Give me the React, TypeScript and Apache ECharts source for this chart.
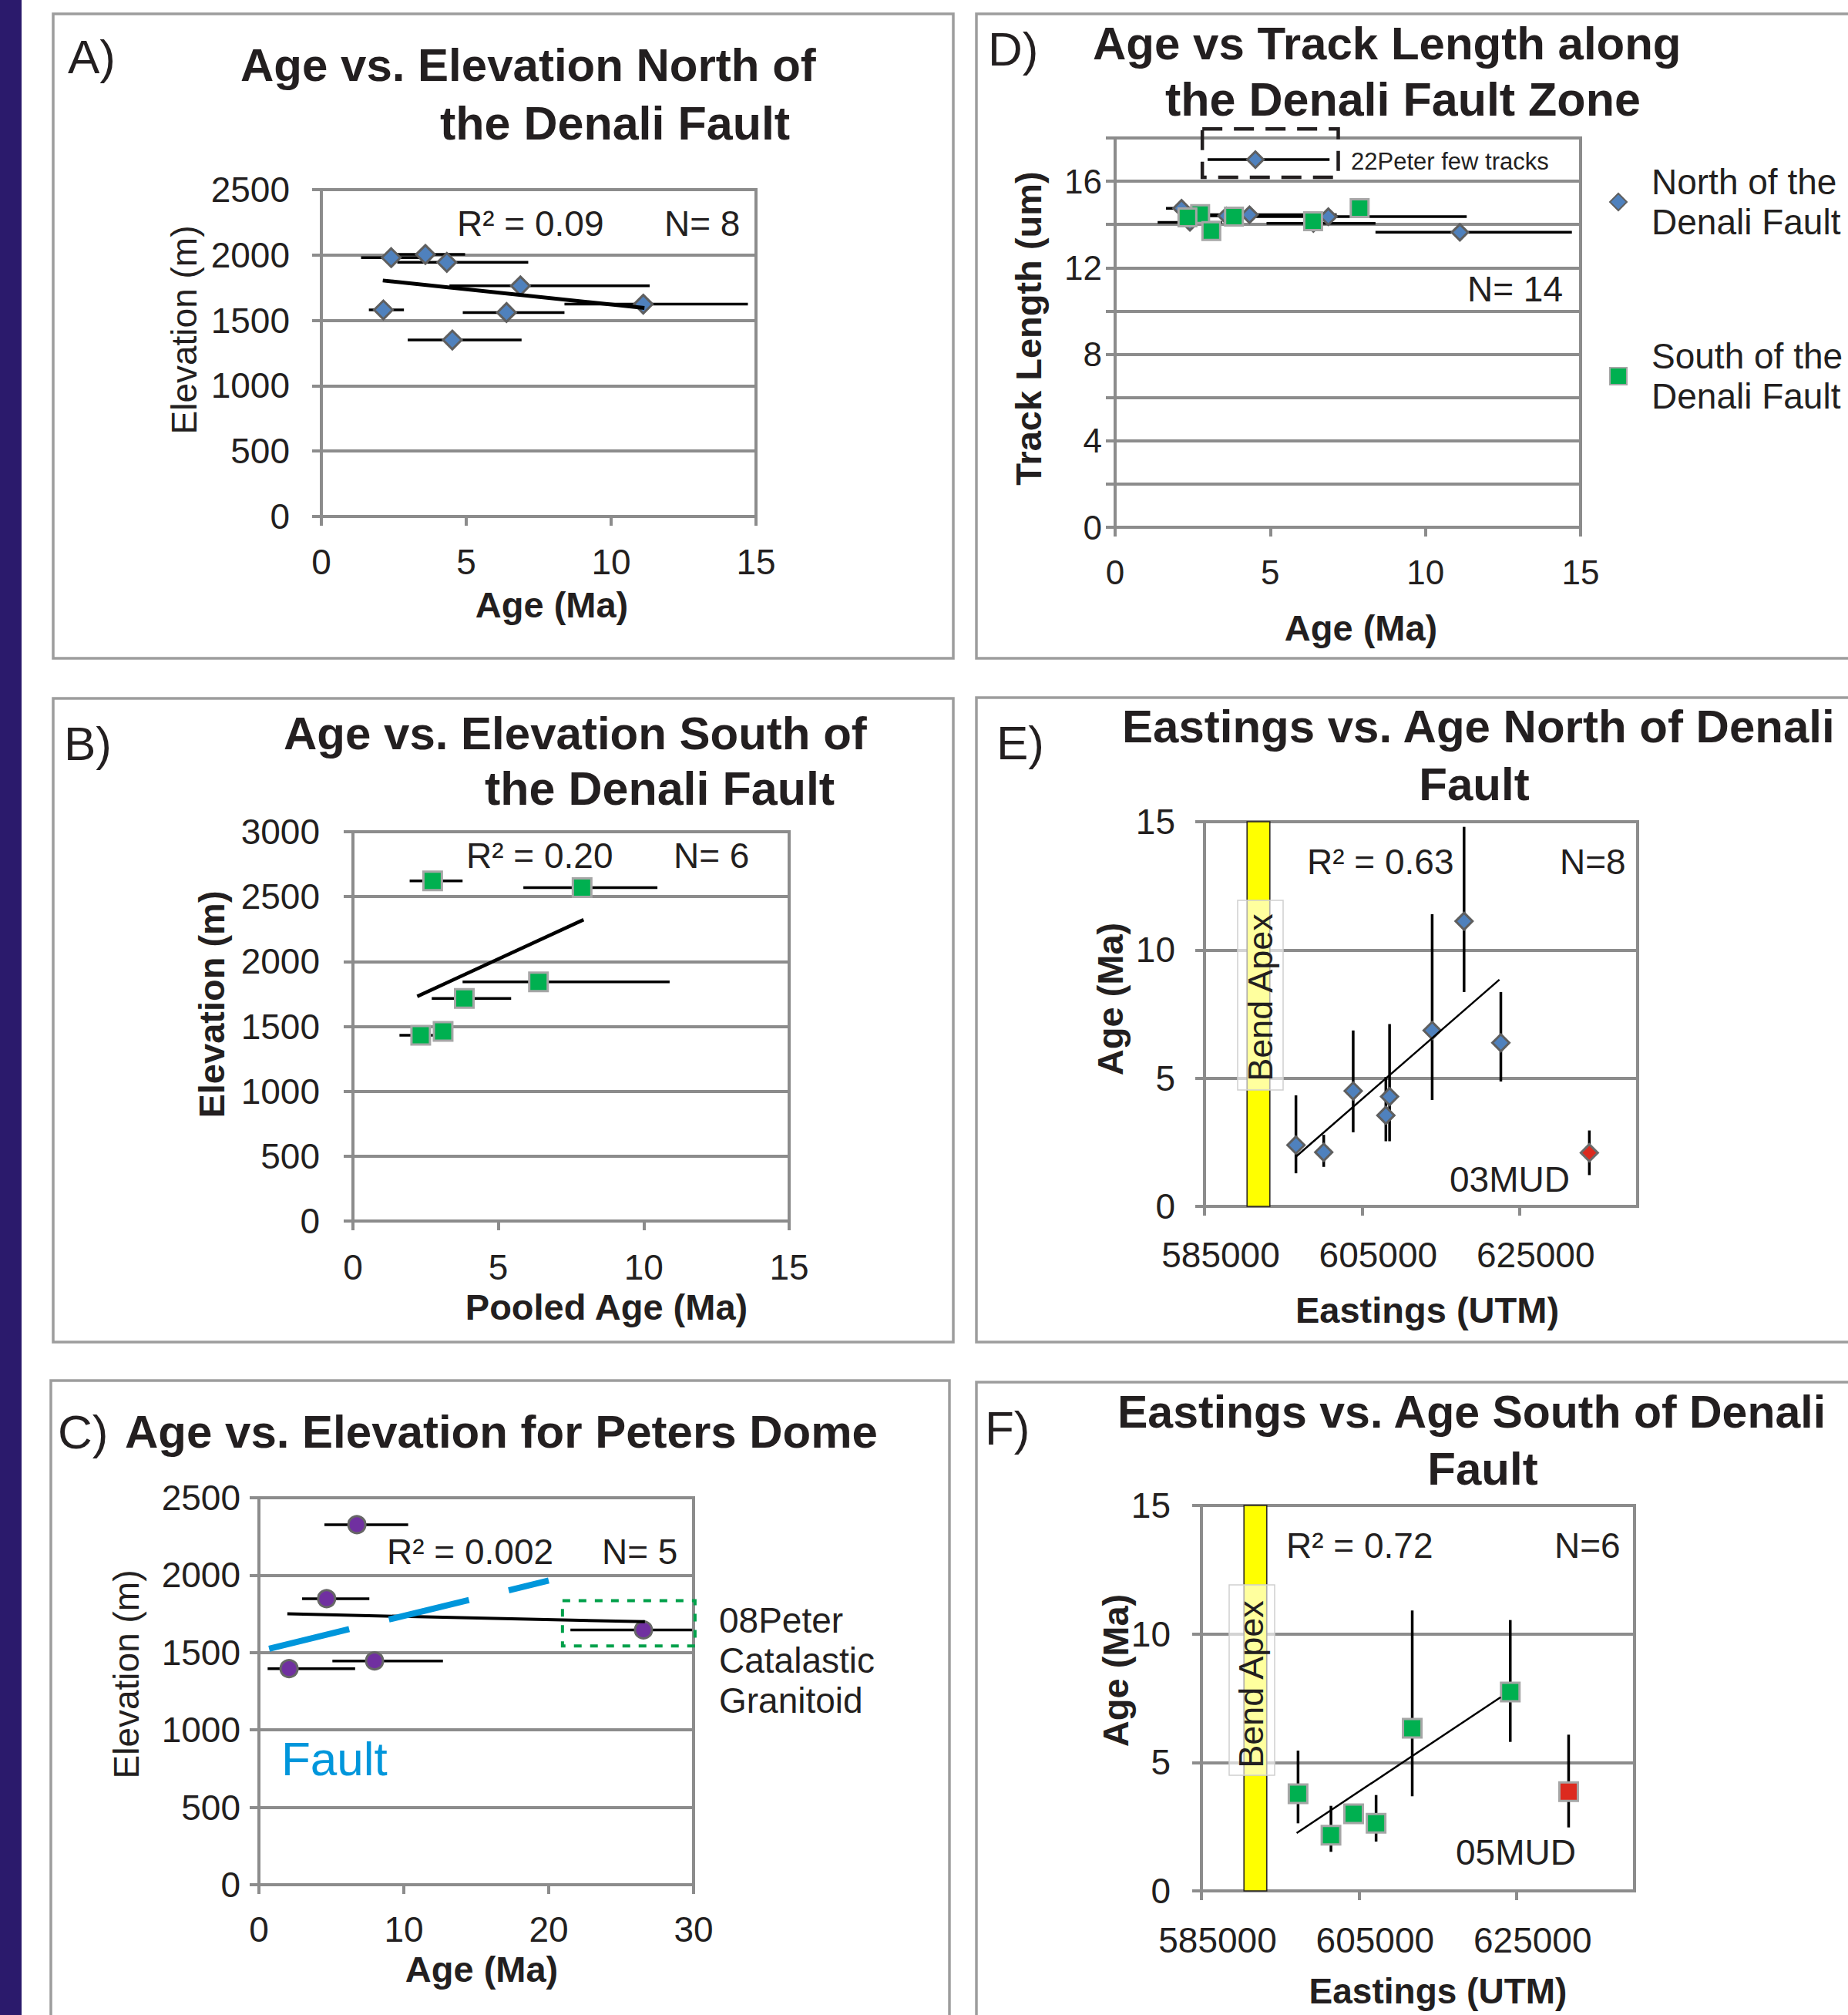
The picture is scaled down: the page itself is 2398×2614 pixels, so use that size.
import React, { useEffect, useRef } from 'react';
import * as echarts from 'echarts';

// ---------------- data ----------------
// North of the Denali Fault (panels A and D)
const AGE_N = [2.41, 3.59, 4.33, 6.87, 11.11, 2.14, 6.39, 4.52];
const AGE_N_LO = [1.37, 2.3, 2.62, 4.42, 8.39, 1.64, 4.88, 2.98];
const AGE_N_HI = [3.45, 4.96, 7.14, 11.33, 14.72, 2.85, 8.39, 6.91];
const ELEV_N = [1980, 2004, 1944, 1764, 1624, 1580, 1560, 1350];
const TRACK_N = [14.1, 14.4, 14.45, 14.36, 13.64, 14.75, 14.05, 17.0];
const TREND_A = [[2.12, 1805], [11.15, 1595]];

// South of the Denali Fault (panels B and D)
const AGE_S = [2.74, 7.88, 6.38, 3.83, 3.1, 2.33];
const AGE_S_LO = [1.95, 5.86, 3.77, 2.71, 2.8, 1.6];
const AGE_S_HI = [3.77, 10.47, 10.89, 5.44, 3.4, 3.0];
const ELEV_S = [2622, 2569, 1843, 1715, 1461, 1431];
const TRACK_S = [14.48, 14.76, 14.15, 14.36, 13.7, 14.33];
const TREND_B = [[2.21, 1731], [7.93, 2322]];

// Peters Dome (panel C)
const AGE_P = [6.76, 4.67, 26.54, 2.08, 7.98];
const AGE_P_LO = [4.52, 2.98, 21.5, 0.6, 5.07];
const AGE_P_HI = [10.3, 7.62, 29.9, 6.64, 12.7];
const ELEV_P = [2326, 1848, 1646, 1396, 1446];
const TREND_C = [[1.96, 1750], [26.64, 1699]];
const FAULT_C = [[0.7, 1525], [20.0, 1965]];
const BOX_C = [20.95, 30.1, 1542, 1835]; // 08Peter box: x1, x2, y1, y2

// Panel D highlight box (22Peter)
const BOX_D = [2.81, 7.19, 16.18, 18.42];

// Panel E (eastings, north)
const EAST_E = [596610, 600140, 603880, 608500, 608030, 613910, 617960, 622630];
const AGE_E = [2.39, 2.11, 4.5, 4.28, 3.55, 6.86, 11.12, 6.38];
const AGE_E_LO = [1.29, 1.54, 2.89, 2.54, 2.54, 4.15, 8.36, 4.87];
const AGE_E_HI = [4.33, 2.79, 6.86, 7.11, 5.05, 11.39, 14.8, 8.36];
const EAST_03MUD = [633870];
const AGE_03MUD = [2.09];
const AGE_03MUD_LO = [1.22];
const AGE_03MUD_HI = [2.96];
const TREND_E = [[596610, 1.94], [622450, 8.84]];

// Panel F (eastings, south)
const EAST_F = [597270, 601450, 604330, 607180, 611770, 624220];
const AGE_F = [3.78, 2.17, 3.0, 2.63, 6.33, 7.74];
const AGE_F_LO = [2.63, 1.52, 2.75, 1.92, 3.68, 5.8];
const AGE_F_HI = [5.46, 3.31, 3.25, 3.73, 10.91, 10.54];
const EAST_05MUD = [631630];
const AGE_05MUD = [3.86];
const AGE_05MUD_LO = [2.47];
const AGE_05MUD_HI = [6.08];
const TREND_F = [[597090, 2.25], [623000, 7.54]];

const BEND_APEX = [590400, 593300];
const EAST_TICKS = [585000, 605000, 625000];

// ---------------- styling ----------------
const FONT = "'Liberation Sans', Arial, Helvetica, sans-serif";
const INK = '#231f20';
const AX = '#8c8c8c';
const BLUE = '#4f81bd';
const GREEN = '#00b050';
const PURPLE = '#7030a0';
const RED = '#dc2a1f';
const NAME_N = 'North of the\nDenali Fault';
const NAME_S = 'South of the\nDenali Fault';

const zip = (xs: number[], ys: number[]) => xs.map((x, i) => [x, ys[i]]);

const hBar = (gi: number, lo: number[], hi: number[], y: number[], width = 3.5) => ({
  type: 'custom', xAxisIndex: gi, yAxisIndex: gi, silent: true,
  data: y.map((v, i) => [lo[i], hi[i], v]),
  encode: { x: [0, 1], y: 2 },
  renderItem: (_p: any, api: any) => {
    const a = api.coord([api.value(0), api.value(2)]);
    const b = api.coord([api.value(1), api.value(2)]);
    return { type: 'line', shape: { x1: a[0], y1: a[1], x2: b[0], y2: b[1] }, style: { stroke: '#000', lineWidth: width } };
  },
});

const vBar = (gi: number, x: number[], lo: number[], hi: number[], width = 3.5) => ({
  type: 'custom', xAxisIndex: gi, yAxisIndex: gi, silent: true,
  data: x.map((v, i) => [v, lo[i], hi[i]]),
  encode: { x: 0, y: [1, 2] },
  renderItem: (_p: any, api: any) => {
    const a = api.coord([api.value(0), api.value(1)]);
    const b = api.coord([api.value(0), api.value(2)]);
    return { type: 'line', shape: { x1: a[0], y1: a[1], x2: b[0], y2: b[1] }, style: { stroke: '#000', lineWidth: width } };
  },
});

const boxSeries = (gi: number, box: number[], style: any) => ({
  type: 'custom', xAxisIndex: gi, yAxisIndex: gi, silent: true,
  data: [box],
  encode: { x: [0, 1], y: [2, 3] },
  renderItem: (_p: any, api: any) => {
    const a = api.coord([api.value(0), api.value(3)]);
    const b = api.coord([api.value(1), api.value(2)]);
    return { type: 'rect', shape: { x: a[0], y: a[1], width: b[0] - a[0], height: b[1] - a[1] }, style };
  },
});

const scatter = (gi: number, xs: number[], ys: number[], symbol: string, size: number, color: string, border: string, name?: string) => ({
  type: 'scatter', name, xAxisIndex: gi, yAxisIndex: gi, symbol, symbolSize: size, silent: true,
  data: zip(xs, ys),
  itemStyle: { color, borderColor: border, borderWidth: 3, opacity: 1 },
});

const line = (gi: number, pts: number[][], width: number, color = '#000', type: any = 'solid') => ({
  type: 'line', xAxisIndex: gi, yAxisIndex: gi, data: pts, symbol: 'none', showSymbol: false, silent: true,
  lineStyle: { color, width, type, cap: 'butt' },
});

const axis = (gi: number, isY: boolean, min: number, max: number, interval: number, margin: number, fontSize = 46, extra: any = {}, tickExtra: any = {}) => ({
  type: 'value', gridIndex: gi, min, max, interval,
  axisLine: { show: true, onZero: false, lineStyle: { color: AX, width: 4 } },
  axisTick: { show: true, inside: false, length: 12, lineStyle: { color: AX, width: 4 }, ...tickExtra },
  axisLabel: { margin, fontSize, fontFamily: FONT, color: INK, formatter: (v: number) => String(v), ...extra },
  splitLine: { show: isY, lineStyle: { color: AX, width: 4 } },
});

const T = (text: string, x: number, y: number, size: number, o: any = {}) => ({
  type: 'text', x, y, rotation: o.rot ? Math.PI / 2 : 0, z: 50, silent: true,
  style: {
    text, fontSize: size, fontFamily: FONT, fontWeight: o.bold ? 'bold' : 'normal', fill: o.color || INK,
    align: o.align || 'left', verticalAlign: 'middle', textAlign: o.align || 'left', textVerticalAlign: 'middle',
  },
});

const R = (x: number, y: number, w: number, h: number, style: any, z = 1) => ({
  type: 'rect', shape: { x, y, width: w, height: h }, style, z, silent: true,
});

function buildOption() {
  const grids = [
    { left: 417, top: 246, width: 564, height: 424 },
    { left: 458, top: 1079, width: 566, height: 505 },
    { left: 336, top: 1943, width: 564, height: 502 },
    { left: 1447, top: 179, width: 604, height: 505 },
    { left: 1563, top: 1066, width: 562, height: 499 },
    { left: 1559, top: 1953, width: 562, height: 500 },
  ].map((g) => ({ ...g, show: true, borderColor: AX, borderWidth: 4, backgroundColor: 'transparent', containLabel: false }));

  const eastLabel = { padding: [0, 0, 0, 42], customValues: EAST_TICKS };
  const eastTick = { customValues: EAST_TICKS };

  const xAxis = [
    axis(0, false, 0, 15, 5, 36),
    axis(1, false, 0, 15, 5, 37),
    axis(2, false, 0, 30, 10, 35),
    axis(3, false, 0, 15, 5, 36, 44),
    axis(4, false, 585000, 640000, 20000, 40, 46, eastLabel, eastTick),
    axis(5, false, 585000, 640000, 20000, 41, 46, eastLabel, eastTick),
  ];
  const yAxis = [
    axis(0, true, 0, 2500, 500, 41),
    axis(1, true, 0, 3000, 500, 43),
    axis(2, true, 0, 2500, 500, 24),
    axis(3, true, 0, 18, 2, 17, 44, { formatter: (v: number) => (v % 4 === 0 ? String(v) : '') }),
    axis(4, true, 0, 15, 5, 38),
    axis(5, true, 0, 15, 5, 40),
  ];

  const yellowBand = (gi: number) =>
    boxSeries(gi, [BEND_APEX[0], BEND_APEX[1], 0, 15], { fill: '#ffff00', stroke: INK, lineWidth: 1.5 });

  const series: any[] = [
    // A
    hBar(0, AGE_N_LO, AGE_N_HI, ELEV_N),
    scatter(0, AGE_N, ELEV_N, 'diamond', 24, BLUE, '#5f5f5f'),
    line(0, TREND_A, 5),
    // B
    hBar(1, AGE_S_LO, AGE_S_HI, ELEV_S),
    scatter(1, AGE_S, ELEV_S, 'rect', 24, GREEN, '#a6a6a6'),
    line(1, TREND_B, 4.5),
    // C
    boxSeries(2, BOX_C, { fill: 'none', stroke: '#00a04a', lineWidth: 4, lineDash: [10, 11] }),
    hBar(2, AGE_P_LO, AGE_P_HI, ELEV_P),
    scatter(2, AGE_P, ELEV_P, 'circle', 22, PURPLE, '#666666'),
    line(2, TREND_C, 4),
    line(2, FAULT_C, 8, '#0096db', [107, 53]),
    // D
    boxSeries(3, BOX_D, { fill: 'none', stroke: INK, lineWidth: 4.5, lineDash: [26, 15] }),
    hBar(3, AGE_N_LO, AGE_N_HI, TRACK_N),
    scatter(3, AGE_N, TRACK_N, 'diamond', 21, BLUE, '#5f5f5f', NAME_N),
    scatter(3, AGE_S, TRACK_S, 'rect', 23, GREEN, '#a6a6a6', NAME_S),
    // E
    yellowBand(4),
    vBar(4, EAST_E, AGE_E_LO, AGE_E_HI),
    vBar(4, EAST_03MUD, AGE_03MUD_LO, AGE_03MUD_HI),
    scatter(4, EAST_E, AGE_E, 'diamond', 22, BLUE, '#5f5f5f'),
    scatter(4, EAST_03MUD, AGE_03MUD, 'diamond', 22, RED, '#6a6a6a'),
    line(4, TREND_E, 2.5),
    // F
    yellowBand(5),
    vBar(5, EAST_F, AGE_F_LO, AGE_F_HI),
    vBar(5, EAST_05MUD, AGE_05MUD_LO, AGE_05MUD_HI),
    scatter(5, EAST_F, AGE_F, 'rect', 24, GREEN, '#a6a6a6'),
    scatter(5, EAST_05MUD, AGE_05MUD, 'rect', 24, RED, '#a6a6a6'),
    line(5, TREND_F, 2.5),
  ];

  const panelBorder = { fill: 'none', stroke: '#9d9d9d', lineWidth: 3.5 };
  const apexBox = { fill: 'rgba(255,255,255,0.62)', stroke: '#cfcfcf', lineWidth: 1.5 };

  const graphic: any[] = [
    R(0, 0, 28, 2614, { fill: '#2b1a6c' }),
    R(69, 18, 1168, 836, panelBorder),
    R(1267, 18, 1200, 836, panelBorder),
    R(69, 906, 1168, 835, panelBorder),
    R(1267, 905, 1200, 836, panelBorder),
    R(66, 1791, 1166, 900, panelBorder),
    R(1267, 1793, 1200, 900, panelBorder),
    // Bend Apex labels
    R(1606, 1168, 59, 246, apexBox, 40),
    T('Bend Apex', 1635, 1294, 45, { rot: true, align: 'center' }),
    R(1595, 2056, 59, 247, apexBox, 40),
    T('Bend Apex', 1623, 2185, 45, { rot: true, align: 'center' }),
    // panel letters
    T('A)', 88, 73, 62),
    T('B)', 83, 964, 62),
    T('C)', 75, 1857, 62),
    T('D)', 1282, 63, 62),
    T('E)', 1293, 963, 62),
    T('F)', 1278, 1852, 62),
    // titles
    T('Age vs. Elevation North of', 312, 84, 60, { bold: true }),
    T('the Denali Fault', 571, 160, 61, { bold: true }),
    T('Age vs. Elevation South of', 368, 951, 60, { bold: true }),
    T('the Denali Fault', 629, 1023, 61, { bold: true }),
    T('Age vs. Elevation for Peters Dome', 162, 1857, 60, { bold: true }),
    T('Age vs Track Length along', 1418, 56, 60, { bold: true }),
    T('the Denali Fault Zone', 1512, 129, 61, { bold: true }),
    T('Eastings vs. Age North of Denali', 1456, 942, 60, { bold: true }),
    T('Fault', 1913, 1017, 60, { bold: true, align: 'center' }),
    T('Eastings vs. Age South of Denali', 1450, 1832, 59, { bold: true }),
    T('Fault', 1924, 1905, 60, { bold: true, align: 'center' }),
    // axis names
    T('Age (Ma)', 716, 784, 47, { bold: true, align: 'center' }),
    T('Elevation (m)', 239, 428, 46, { rot: true, align: 'center' }),
    T('Pooled Age (Ma)', 787, 1695, 47, { bold: true, align: 'center' }),
    T('Elevation (m)', 274, 1303, 47, { bold: true, rot: true, align: 'center' }),
    T('Age (Ma)', 625, 2554, 47, { bold: true, align: 'center' }),
    T('Elevation (m)', 164, 2172, 46, { rot: true, align: 'center' }),
    T('Age (Ma)', 1766, 814, 47, { bold: true, align: 'center' }),
    T('Track Length (um)', 1334, 426, 47, { bold: true, rot: true, align: 'center' }),
    T('Eastings (UTM)', 1852, 1699, 47, { bold: true, align: 'center' }),
    T('Age (Ma)', 1440, 1296, 47, { bold: true, rot: true, align: 'center' }),
    T('Eastings (UTM)', 1866, 2583, 46, { bold: true, align: 'center' }),
    T('Age (Ma)', 1447, 2167, 47, { bold: true, rot: true, align: 'center' }),
    // annotations
    T('R² = 0.09', 593, 290, 46),
    T('N= 8', 862, 290, 46),
    T('R² = 0.20', 605, 1110, 46),
    T('N= 6', 874, 1110, 46),
    T('R² = 0.002', 502, 2013, 46),
    T('N= 5', 781, 2013, 46),
    T('08Peter', 933, 2102, 46),
    T('Catalastic', 933, 2154, 46),
    T('Granitoid', 933, 2206, 46),
    T('Fault', 365, 2281, 62, { color: '#0096db' }),
    T('22Peter few tracks', 1753, 209, 31),
    T('N= 14', 1904, 375, 46),
    T('R² = 0.63', 1696, 1118, 46),
    T('N=8', 2024, 1118, 46),
    T('03MUD', 1881, 1530, 46),
    T('R² = 0.72', 1669, 2005, 46),
    T('N=6', 2017, 2005, 46),
    T('05MUD', 1889, 2403, 46),
  ];

  return {
    animation: false,
    backgroundColor: '#ffffff',
    grid: grids,
    xAxis,
    yAxis,
    legend: {
      show: true, orient: 'vertical', left: 2083, top: 192, itemGap: 96, itemWidth: 22, itemHeight: 22,
      data: [NAME_N, NAME_S], selectedMode: false,
      textStyle: { fontSize: 46, fontFamily: FONT, color: INK, lineHeight: 52, padding: [26, 0, 0, 27] },
    },
    series,
    graphic,
  };
}

export default function App() {
  const ref = useRef<HTMLDivElement>(null);
  useEffect(() => {
    if (!ref.current) return;
    const chart = echarts.init(ref.current, undefined, { renderer: 'svg' });
    chart.setOption(buildOption() as any);
    return () => chart.dispose();
  }, []);
  return (
    <div
      ref={ref}
      style={{ position: 'absolute', left: 0, top: 0, width: 2398, height: 2614, background: '#ffffff' }}
    />
  );
}
